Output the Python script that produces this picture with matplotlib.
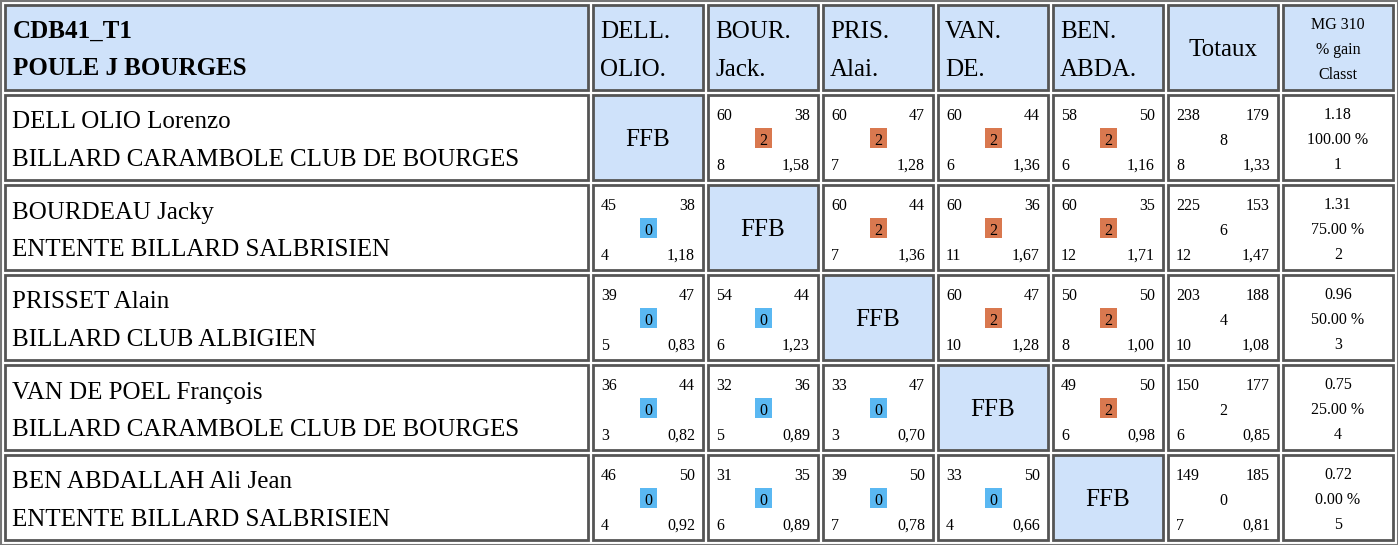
import matplotlib.pyplot as plt
from matplotlib.patches import Rectangle

plt.rcParams['font.family'] = 'serif'
plt.rcParams['font.serif'] = ['Liberation Serif', 'Times New Roman', 'DejaVu Serif']

title_lines = ["CDB41_T1", "POULE J BOURGES"]
col_heads = ["DELL.\nOLIO.", "BOUR.\nJack.", "PRIS.\nAlai.", "VAN.\nDE.", "BEN.\nABDA."]
players = ["DELL OLIO Lorenzo", "BOURDEAU Jacky", "PRISSET Alain",
           "VAN DE POEL François", "BEN ABDALLAH Ali Jean"]
clubs = ["BILLARD CARAMBOLE CLUB DE BOURGES", "ENTENTE BILLARD SALBRISIEN",
         "BILLARD CLUB ALBIGIEN", "BILLARD CARAMBOLE CLUB DE BOURGES",
         "ENTENTE BILLARD SALBRISIEN"]
# per match: (points, distance, match pts, reprises, moyenne)
matches = [
    [None, (60, 38, 2, 8, "1,58"), (60, 47, 2, 7, "1,28"), (60, 44, 2, 6, "1,36"), (58, 50, 2, 6, "1,16")],
    [(45, 38, 0, 4, "1,18"), None, (60, 44, 2, 7, "1,36"), (60, 36, 2, 11, "1,67"), (60, 35, 2, 12, "1,71")],
    [(39, 47, 0, 5, "0,83"), (54, 44, 0, 6, "1,23"), None, (60, 47, 2, 10, "1,28"), (50, 50, 2, 8, "1,00")],
    [(36, 44, 0, 3, "0,82"), (32, 36, 0, 5, "0,89"), (33, 47, 0, 3, "0,70"), None, (49, 50, 2, 6, "0,98")],
    [(46, 50, 0, 4, "0,92"), (31, 35, 0, 6, "0,89"), (39, 50, 0, 7, "0,78"), (33, 50, 0, 4, "0,66"), None],
]
totals = [(238, 179, 8, 8, "1,33"), (225, 153, 6, 12, "1,47"), (203, 188, 4, 10, "1,08"),
          (150, 177, 2, 6, "0,85"), (149, 185, 0, 7, "0,81")]
mg = ["1.18", "1.31", "0.96", "0.75", "0.72"]
gain = ["100.00 %", "75.00 %", "50.00 %", "25.00 %", "0.00 %"]
classt = ["1", "2", "3", "4", "5"]

BLUE = '#cfe2fa'
WIN = '#d9784f'
LOSS = '#5ab8f2'
BIG = 18
SMALL = 11.5

fig = plt.figure(figsize=(13.98, 5.45), dpi=100)
ax = fig.add_axes([0, 0, 1, 1])
ax.set_xlim(0, 1398)
ax.set_ylim(545, 0)
ax.axis('off')
ax.add_patch(Rectangle((0.5, 0.5), 1397, 544, fc='white', ec='#777777', lw=1.5))

col_x = [5, 593, 708, 823, 938, 1053, 1168, 1283]
col_w = [583] + [110] * 6 + [110]
row_y = [5, 95, 185, 275, 365, 455]
row_h = 85


def cell(i, j, fc='white'):
    ax.add_patch(Rectangle((col_x[j], row_y[i]), col_w[j], row_h, fc=fc,
                           ec='#555555', lw=2))
    return col_x[j], row_y[i], col_w[j]


def txt(x, y, s, size, ha='left', **kw):
    ax.text(x, y, s, fontsize=size, ha=ha, va='center_baseline', **kw)


def score_cell(x, y, w, m, box=True):
    txt(x + 8, y + 19, str(m[0]), SMALL)
    txt(x + w - 8, y + 19, str(m[1]), SMALL, ha='right')
    txt(x + 8, y + 69, str(m[3]), SMALL)
    txt(x + w - 8, y + 69, m[4], SMALL, ha='right')
    if box:
        ax.add_patch(Rectangle((x + w / 2 - 8, y + 33), 17, 20,
                               fc=WIN if m[2] == 2 else LOSS, ec='none'))
    txt(x + w / 2 + 0.5, y + 44, str(m[2]), SMALL, ha='center')


# header
x, y, w = cell(0, 0, BLUE)
txt(x + 8, y + 24, title_lines[0], BIG, fontweight='bold')
txt(x + 8, y + 61, title_lines[1], BIG, fontweight='bold')
for j, h in enumerate(col_heads):
    x, y, w = cell(0, j + 1, BLUE)
    a, b = h.split('\n')
    txt(x + 7, y + 25, a, BIG)
    txt(x + 7, y + 62, b, BIG)
x, y, w = cell(0, 6, BLUE)
txt(x + w / 2, y + 43, "Totaux", BIG, ha='center')
x, y, w = cell(0, 7, BLUE)
for k, t in enumerate(["MG 310", "% gain", "Classt"]):
    txt(x + w / 2, y + 18 + 25 * k, t, SMALL, ha='center')

for i in range(5):
    r = i + 1
    x, y, w = cell(r, 0)
    txt(x + 7, y + 25, players[i], BIG)
    txt(x + 7, y + 62, clubs[i], BIG)
    for j in range(5):
        m = matches[i][j]
        if m is None:
            x, y, w = cell(r, j + 1, BLUE)
            txt(x + w / 2, y + 43, "FFB", BIG, ha='center')
        else:
            x, y, w = cell(r, j + 1)
            score_cell(x, y, w, m)
    x, y, w = cell(r, 6)
    score_cell(x, y, w, totals[i], box=False)
    x, y, w = cell(r, 7)
    for k, t in enumerate([mg[i], gain[i], classt[i]]):
        txt(x + w / 2, y + 18 + 25 * k, t, SMALL, ha='center')

fig.savefig('out.png', dpi=100)
